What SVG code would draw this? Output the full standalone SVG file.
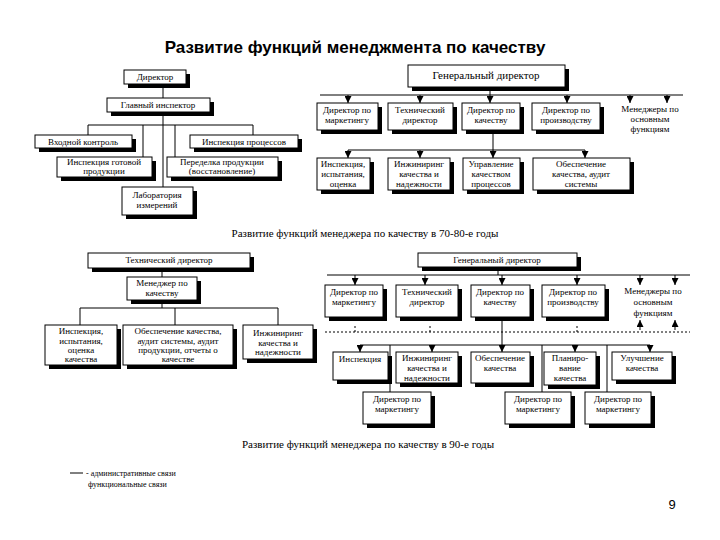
<svg xmlns="http://www.w3.org/2000/svg" width="720" height="540" viewBox="0 0 720 540">
<style>
.b{fill:#fff;stroke:#000;stroke-width:1}
.s{fill:#000}
text{font-family:"Liberation Serif",serif;font-size:9px;fill:#000;text-anchor:middle}
.t{font-family:"Liberation Sans",sans-serif;font-size:17px;font-weight:bold}
.h{font-size:11px}
.l{fill:none;stroke:#000;stroke-width:1}
.ar{fill:none;stroke:#000;stroke-width:1;marker-end:url(#a)}
.d{fill:none;stroke:#000;stroke-width:1;stroke-dasharray:2,2}
</style>
<defs>
<marker id="a" viewBox="0 0 8 8" refX="8" refY="4" markerWidth="7" markerHeight="7" orient="auto" markerUnits="userSpaceOnUse"><path d="M0,0 L8,4 L0,8 z" fill="#000"/></marker>
</defs>
<text class="t" x="355" y="53">Развитие функций менеджмента по качеству</text>

<g id="connectors">
<path class="l" d="M163,84 V187 M88,125 H253 M88,125 V135 M253,125 V135 M143,125 V157 M175,125 V157"/>
<path class="l" d="M490,87 V95 M320,95 H683"/>
<path class="ar" d="M348,95 V103"/><path class="ar" d="M420,95 V103"/><path class="ar" d="M490,95 V103"/><path class="ar" d="M567,95 V103"/><path class="ar" d="M630,95 V103"/><path class="ar" d="M667,95 V103"/>
<path class="l" d="M493,130 V150 M348,150 H585"/>
<path class="ar" d="M348,150 V158"/><path class="ar" d="M420,150 V158"/><path class="ar" d="M493,150 V158"/><path class="ar" d="M585,150 V158"/>
<path class="l" d="M162,268 V277 M162,300 V308 M80,308 H278 M80,308 V325 M175,308 V325 M278,308 V325"/>
<path class="l" d="M498,267 V275 M327,275 H690"/>
<path class="ar" d="M355,275 V285"/><path class="ar" d="M425,275 V285"/><path class="ar" d="M502,275 V285"/><path class="ar" d="M577,275 V285"/><path class="ar" d="M640,275 V285"/><path class="ar" d="M675,275 V285"/>
<path class="ar" d="M640,330 V320"/><path class="ar" d="M675,330 V320"/>
<path class="d" d="M325,332 H690 M355,332 V326 M430,332 V326 M577,332 V324"/>
<path class="l" d="M502,317 V345 M360,345 H650 M390,345 V392 M542,345 V392 M607,345 V392"/>
<path class="ar" d="M360,345 V352"/><path class="ar" d="M432,345 V352"/><path class="ar" d="M502,345 V352"/><path class="ar" d="M575,345 V352"/><path class="ar" d="M650,345 V352"/>
</g>

<g id="n1"><rect class="s" x="128" y="74" width="62" height="14"/><rect class="b" x="124" y="70" width="62" height="14"/><text x="155" y="80">Директор</text></g>
<g id="n2"><rect class="s" x="111" y="102" width="103" height="14"/><rect class="b" x="107" y="98" width="103" height="14"/><text x="158" y="108">Главный инспектор</text></g>
<g id="n3"><rect class="s" x="39" y="139" width="97" height="13"/><rect class="b" x="35" y="135" width="97" height="13"/><text x="83" y="145">Входной контроль</text></g>
<g id="n4"><rect class="s" x="194" y="139" width="108" height="13"/><rect class="b" x="190" y="135" width="108" height="13"/><text x="244" y="145">Инспекция процессов</text></g>
<g id="n5"><rect class="s" x="61" y="161" width="95" height="20"/><rect class="b" x="57" y="157" width="95" height="20"/><text x="104" y="165">Инспекция готовой</text><text x="104" y="174">продукции</text></g>
<g id="n6"><rect class="s" x="171" y="161" width="111" height="20"/><rect class="b" x="167" y="157" width="111" height="20"/><text x="222" y="165">Переделка продукции</text><text x="222" y="174">(восстановление)</text></g>
<g id="n7"><rect class="s" x="126" y="191" width="71" height="28"/><rect class="b" x="122" y="187" width="71" height="28"/><text x="157" y="198">Лаборатория</text><text x="157" y="208">измерений</text></g>

<g id="n8"><rect class="s" x="412" y="69" width="157" height="22"/><rect class="b" x="408" y="65" width="157" height="22"/><text class="h" x="486" y="79">Генеральный директор</text></g>
<g id="n9"><rect class="s" x="321" y="107" width="61" height="27"/><rect class="b" x="317" y="103" width="61" height="27"/><text x="347" y="113">Директор по</text><text x="347" y="123">маркетингу</text></g>
<g id="n10"><rect class="s" x="392" y="107" width="65" height="27"/><rect class="b" x="388" y="103" width="65" height="27"/><text x="420" y="113">Технический</text><text x="420" y="123">директор</text></g>
<g id="n11"><rect class="s" x="466" y="107" width="58" height="27"/><rect class="b" x="462" y="103" width="58" height="27"/><text x="491" y="113">Директор по</text><text x="491" y="123">качеству</text></g>
<g id="n12"><rect class="s" x="536" y="107" width="68" height="27"/><rect class="b" x="532" y="103" width="68" height="27"/><text x="566" y="113">Директор по</text><text x="566" y="123">производству</text></g>
<g id="n13"><text x="650" y="112">Менеджеры по</text><text x="650" y="122">основным</text><text x="650" y="132">функциям</text></g>
<g id="n14"><rect class="s" x="321" y="162" width="53" height="32"/><rect class="b" x="317" y="158" width="53" height="32"/><text x="343" y="167">Инспекция,</text><text x="343" y="177">испытания,</text><text x="343" y="187">оценка</text></g>
<g id="n15"><rect class="s" x="392" y="162" width="62" height="32"/><rect class="b" x="388" y="158" width="62" height="32"/><text x="419" y="167">Инжиниринг</text><text x="419" y="177">качества и</text><text x="419" y="187">надежности</text></g>
<g id="n16"><rect class="s" x="467" y="162" width="57" height="32"/><rect class="b" x="463" y="158" width="57" height="32"/><text x="491" y="167">Управление</text><text x="491" y="177">качеством</text><text x="491" y="187">процессов</text></g>
<g id="n17"><rect class="s" x="537" y="162" width="97" height="32"/><rect class="b" x="533" y="158" width="97" height="32"/><text x="581" y="167">Обеспечение</text><text x="581" y="177">качества, аудит</text><text x="581" y="187">системы</text></g>

<text class="h" x="365" y="237">Развитие функций менеджера по качеству в 70-80-е годы</text>

<g id="n18"><rect class="s" x="92" y="257" width="162" height="15"/><rect class="b" x="88" y="253" width="162" height="15"/><text x="169" y="263">Технический директор</text></g>
<g id="n19"><rect class="s" x="131" y="281" width="70" height="23"/><rect class="b" x="127" y="277" width="70" height="23"/><text x="162" y="286">Менеджер по</text><text x="162" y="296">качеству</text></g>
<g id="n20"><rect class="s" x="49" y="329" width="72" height="40"/><rect class="b" x="45" y="325" width="72" height="40"/><text x="81" y="334">Инспекция,</text><text x="81" y="344">испытания,</text><text x="81" y="353">оценка</text><text x="81" y="362">качества</text></g>
<g id="n21"><rect class="s" x="127" y="329" width="110" height="40"/><rect class="b" x="123" y="325" width="110" height="40"/><text x="178" y="334">Обеспечение качества,</text><text x="178" y="344">аудит системы, аудит</text><text x="178" y="353">продукции, отчеты о</text><text x="178" y="362">качестве</text></g>
<g id="n22"><rect class="s" x="247" y="329" width="70" height="34"/><rect class="b" x="243" y="325" width="70" height="34"/><text x="278" y="336">Инжиниринг</text><text x="278" y="346">качества и</text><text x="278" y="355">надежности</text></g>

<g id="n23"><rect class="s" x="422" y="257" width="159" height="14"/><rect class="b" x="418" y="253" width="159" height="14"/><text x="497" y="263">Генеральный директор</text></g>
<g id="n24"><rect class="s" x="329" y="289" width="58" height="32"/><rect class="b" x="325" y="285" width="58" height="32"/><text x="354" y="295">Директор по</text><text x="354" y="305">маркетингу</text></g>
<g id="n25"><rect class="s" x="400" y="289" width="62" height="32"/><rect class="b" x="396" y="285" width="62" height="32"/><text x="427" y="295">Технический</text><text x="427" y="305">директор</text></g>
<g id="n26"><rect class="s" x="475" y="289" width="59" height="32"/><rect class="b" x="471" y="285" width="59" height="32"/><text x="500" y="295">Директор по</text><text x="500" y="305">качеству</text></g>
<g id="n27"><rect class="s" x="546" y="289" width="63" height="32"/><rect class="b" x="542" y="285" width="63" height="32"/><text x="573" y="295">Директор по</text><text x="573" y="305">производству</text></g>
<g id="n28"><text x="653" y="294">Менеджеры по</text><text x="653" y="305">основным</text><text x="653" y="316">функциям</text></g>
<g id="n29"><rect class="s" x="337" y="356" width="55" height="28"/><rect class="b" x="333" y="352" width="55" height="28"/><text x="360" y="362">Инспекция</text></g>
<g id="n30"><rect class="s" x="400" y="356" width="62" height="31"/><rect class="b" x="396" y="352" width="62" height="31"/><text x="427" y="361">Инжиниринг</text><text x="427" y="371">качества и</text><text x="427" y="381">надежности</text></g>
<g id="n31"><rect class="s" x="475" y="356" width="59" height="31"/><rect class="b" x="471" y="352" width="59" height="31"/><text x="500" y="361">Обеспечение</text><text x="500" y="371">качества</text></g>
<g id="n32"><rect class="s" x="548" y="356" width="52" height="33"/><rect class="b" x="544" y="352" width="52" height="33"/><text x="570" y="361">Планиро-</text><text x="570" y="371">вание</text><text x="570" y="381">качества</text></g>
<g id="n33"><rect class="s" x="616" y="356" width="60" height="28"/><rect class="b" x="612" y="352" width="60" height="28"/><text x="642" y="361">Улучшение</text><text x="642" y="371">качества</text></g>
<g id="n34"><rect class="s" x="367" y="396" width="68" height="32"/><rect class="b" x="363" y="392" width="68" height="32"/><text x="397" y="402">Директор по</text><text x="397" y="412">маркетингу</text></g>
<g id="n35"><rect class="s" x="509" y="396" width="66" height="32"/><rect class="b" x="505" y="392" width="66" height="32"/><text x="538" y="402">Директор по</text><text x="538" y="412">маркетингу</text></g>
<g id="n36"><rect class="s" x="589" y="396" width="66" height="32"/><rect class="b" x="585" y="392" width="66" height="32"/><text x="618" y="402">Директор по</text><text x="618" y="412">маркетингу</text></g>

<text class="h" x="368" y="448">Развитие функций менеджера по качеству в 90-е годы</text>
<path class="l" d="M70,473 H83"/>
<text x="86" y="476" style="text-anchor:start;font-size:8px">- административные связи</text>
<text x="88" y="487" style="text-anchor:start;font-size:8px">функциональные связи</text>
<text x="672" y="509" style="font-family:'Liberation Sans',sans-serif;font-size:13px">9</text>
</svg>
